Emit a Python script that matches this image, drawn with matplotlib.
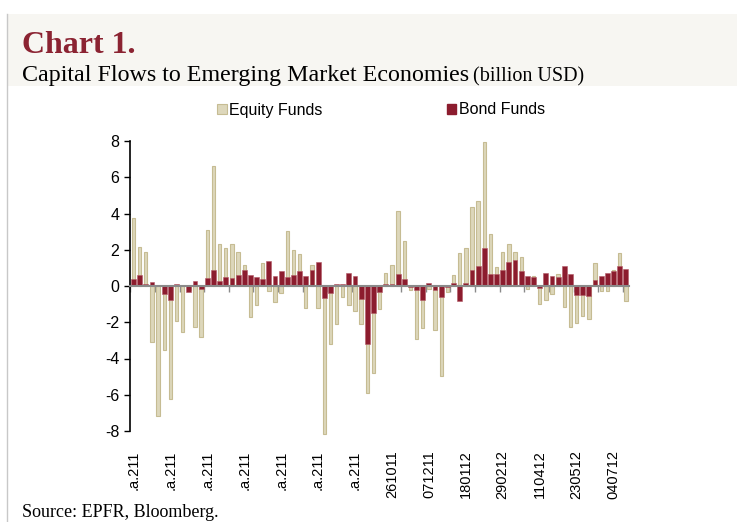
import numpy as np
import matplotlib
matplotlib.use("Agg")
import matplotlib.pyplot as plt
from matplotlib.patches import Rectangle, Patch
from matplotlib.lines import Line2D

# ---- data (billion USD, weekly) ----
equity_funds = [3.76, 2.17, 1.86, -3.11, -7.15, -3.55, -6.26, -1.93, -2.55, -0.20,
                -2.27, -2.84, 3.08, 6.61, 2.34, 2.08, 2.30, 1.90, 1.18, -1.71,
                -1.07, 1.27, -0.29, -0.88, -0.39, 3.02, 2.00, 1.75, -1.19, 1.18,
                -1.21, -8.15, -3.19, -2.08, -0.62, -1.03, -1.37, -2.08, -5.88, -4.79,
                -1.25, 0.74, 1.14, 4.16, 2.49, -0.20, -2.91, -2.30, -0.18, -2.41,
                -4.97, -0.35, 0.63, 1.84, 2.10, 4.38, 4.68, 7.96, 2.85, 1.05,
                1.90, 2.29, 1.90, 1.62, -0.15, 0.55, -1.00, -0.76, -0.42, 0.66,
                -1.16, -2.28, -2.04, -1.64, -1.82, 1.27, -0.28, -0.29, 0.90, 1.84,
                -0.83]
bond_funds = [0.37, 0.63, 0.13, 0.24, 0.04, -0.46, -0.76, 0.13, 0.07, -0.33,
              0.26, -0.15, 0.44, 0.90, 0.29, 0.48, 0.44, 0.63, 0.88, 0.63,
              0.52, 0.41, 1.40, 0.57, 0.85, 0.52, 0.63, 0.85, 0.57, 0.88,
              1.33, -0.64, -0.40, 0.13, 0.11, 0.70, 0.57, -0.74, -3.22, -1.47,
              -0.33, 0.11, 0.11, 0.64, 0.39, -0.03, -0.24, -0.76, 0.18, -0.24,
              -0.61, -0.05, 0.15, -0.81, 0.15, 0.88, 1.12, 2.12, 0.66, 0.66,
              0.88, 1.34, 1.42, 0.83, 0.55, 0.50, -0.13, 0.70, 0.57, 0.50,
              1.09, 0.66, -0.48, -0.50, -0.53, 0.33, 0.57, 0.70, 0.83, 1.12,
              0.96]
tick_labels = [".a.211"] * 7 + ["261011", "071211", "180112", "290212",
                                "110412", "230512", "040712"]
label_every = 6
series_names = ["Equity Funds", "Bond Funds"]
y_ticks = [-8, -6, -4, -2, 0, 2, 4, 6, 8]

# ---- styling ----
W, H = 737, 522
EQ_FACE, EQ_EDGE = "#ddd7bb", "#c6bc93"
BOND = "#8c1c2e"
SANS = ["Liberation Sans", "DejaVu Sans"]
SERIF = ["Liberation Serif", "DejaVu Serif"]

fig = plt.figure(figsize=(W / 100, H / 100), dpi=100)
fig.patch.set_facecolor("white")

# title band and left rule
fig.patches.append(Rectangle((7 / W, 1 - 86 / H), 1, 72 / H, transform=fig.transFigure,
                             facecolor="#f7f6f2", edgecolor="none", zorder=0))
fig.lines.append(Line2D([7 / W, 7 / W], [0, 1 - 14 / H], transform=fig.transFigure,
                        color="#c8c8c8", linewidth=1))

fig.text(22 / W, 1 - 53 / H, "Chart 1.", family=SERIF, fontweight="bold",
         fontsize=23, color="#8b2332", va="baseline", ha="left")
fig.text(22 / W, 1 - 81 / H, "Capital Flows to Emerging Market Economies",
         family=SERIF, fontsize=17.3, color="black", va="baseline", ha="left")
fig.text(473 / W, 1 - 81 / H, "(billion USD)", family=SERIF, fontsize=14.5,
         color="black", va="baseline", ha="left")
fig.text(22 / W, 1 - 517 / H, "Source: EPFR, Bloomberg.", family=SERIF,
         fontsize=13, color="black", va="baseline", ha="left")

# ---- axes ----
ax = fig.add_axes([130.4 / W, 1 - 431 / H, (628.9 - 130.4) / W, (431 - 141) / H])
n = len(equity_funds)
x = np.arange(n)
ax.bar(x, equity_funds, width=0.55, color=EQ_FACE, edgecolor=EQ_EDGE,
       linewidth=0.8, zorder=2, clip_on=False)
ax.bar(x, bond_funds, width=0.78, color=BOND, edgecolor="#b35a67",
       linewidth=0.4, zorder=3)

ax.set_xlim(-0.5, n - 0.5)
ax.set_ylim(-8, 8)
ax.set_yticks(y_ticks)
ax.set_yticklabels([str(v) for v in y_ticks], family=SANS, fontsize=11.5)
ax.tick_params(axis="y", direction="out", length=4, width=1, color="black", pad=4)

for s in ("top", "right"):
    ax.spines[s].set_visible(False)
ax.spines["left"].set_color("black")
ax.spines["left"].set_linewidth(1.2)
ax.spines["bottom"].set_position(("data", 0))
ax.spines["bottom"].set_color("#8a8a8a")
ax.spines["bottom"].set_linewidth(1.5)
ax.spines["bottom"].set_zorder(4)
ax.set_xticks(np.arange(-0.5, n - 0.5, 4))
ax.tick_params(axis="x", direction="out", length=4, width=1, color="#8a8a8a",
               labelbottom=False)

sec = ax.secondary_xaxis("bottom")
sec.set_xticks(np.arange(0, n, label_every)[:len(tick_labels)])
sec.set_xticklabels(tick_labels, rotation=90, family=SANS, fontsize=10.5,
                    va="top", ha="center")
sec.tick_params(axis="x", length=0, pad=14)
sec.spines["bottom"].set_visible(False)

handles = [Patch(facecolor=EQ_FACE, edgecolor=EQ_EDGE, linewidth=0.8),
           Patch(facecolor=BOND, edgecolor=BOND)]
fig.legend(handles, series_names, loc="center", bbox_to_anchor=(381 / W, 1 - 110 / H),
           ncol=2, frameon=False, prop={"family": SANS, "size": 11.5},
           handlelength=0.6, handleheight=0.6, handletextpad=0.15,
           columnspacing=7.8, borderpad=0)

fig.savefig("out.png", dpi=100)
